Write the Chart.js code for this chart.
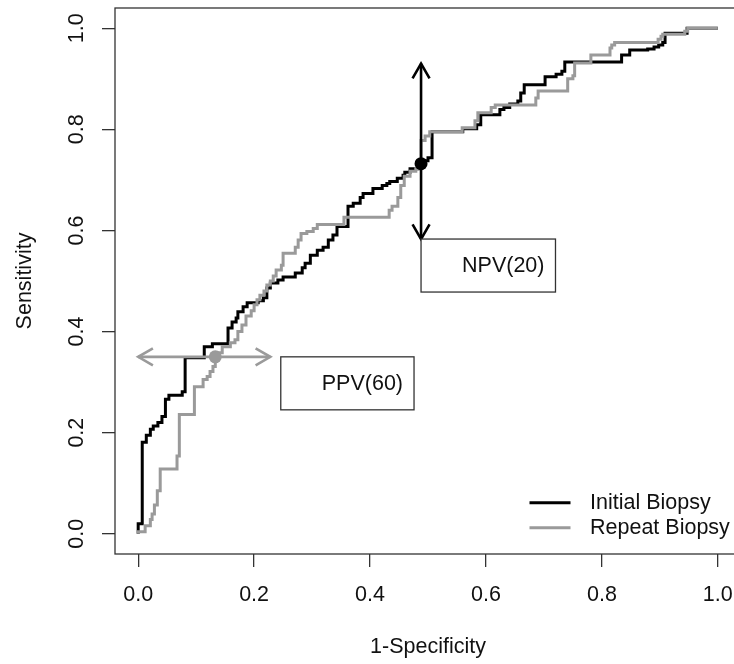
<!DOCTYPE html>
<html>
<head>
<meta charset="utf-8">
<script src="https://cdn.jsdelivr.net/npm/chart.js@4/dist/chart.umd.min.js"></script>
<style>
  html, body { margin: 0; padding: 0; background: #fff; overflow: hidden; }
</style>
</head>
<body>
<canvas id="roc" width="760" height="664"></canvas>
<script>
// ROC curve data (1-specificity, sensitivity)
const initialFpr = [0.000,0.000,0.007,0.007,0.014,0.014,0.021,0.021,0.026,0.026,0.034,0.034,0.041,0.041,0.047,0.047,0.053,0.053,0.076,0.076,0.081,0.081,0.114,0.114,0.128,0.128,0.155,0.155,0.162,0.162,0.169,0.169,0.172,0.172,0.181,0.181,0.188,0.188,0.207,0.207,0.216,0.216,0.222,0.222,0.228,0.228,0.241,0.241,0.250,0.250,0.271,0.271,0.283,0.283,0.288,0.288,0.297,0.297,0.309,0.309,0.319,0.319,0.328,0.328,0.336,0.336,0.343,0.343,0.362,0.362,0.371,0.371,0.383,0.383,0.388,0.388,0.405,0.405,0.421,0.421,0.429,0.429,0.434,0.434,0.447,0.447,0.457,0.457,0.460,0.460,0.469,0.469,0.483,0.483,0.493,0.493,0.500,0.500,0.507,0.507,0.560,0.560,0.584,0.584,0.591,0.591,0.624,0.624,0.631,0.631,0.641,0.641,0.655,0.655,0.660,0.660,0.666,0.666,0.702,0.702,0.721,0.721,0.731,0.731,0.736,0.736,0.834,0.834,0.848,0.848,0.879,0.879,0.890,0.890,0.898,0.898,0.905,0.905,0.909,0.909,0.947,0.947,1.000];
const initialTpr = [0.000,0.020,0.020,0.181,0.181,0.195,0.195,0.207,0.207,0.213,0.213,0.220,0.220,0.232,0.232,0.266,0.266,0.274,0.274,0.281,0.281,0.348,0.348,0.370,0.370,0.376,0.376,0.407,0.407,0.419,0.419,0.427,0.427,0.439,0.439,0.449,0.449,0.457,0.457,0.461,0.461,0.467,0.467,0.486,0.486,0.496,0.496,0.502,0.502,0.508,0.508,0.516,0.516,0.526,0.526,0.535,0.535,0.551,0.551,0.561,0.561,0.567,0.567,0.581,0.581,0.591,0.591,0.608,0.608,0.648,0.648,0.654,0.654,0.665,0.665,0.673,0.673,0.683,0.683,0.689,0.689,0.693,0.693,0.697,0.697,0.703,0.703,0.709,0.709,0.715,0.715,0.722,0.722,0.728,0.728,0.738,0.738,0.744,0.744,0.795,0.795,0.801,0.801,0.809,0.809,0.829,0.829,0.839,0.839,0.843,0.843,0.850,0.850,0.856,0.856,0.872,0.872,0.888,0.888,0.904,0.904,0.909,0.909,0.915,0.915,0.933,0.933,0.947,0.947,0.957,0.957,0.959,0.959,0.963,0.963,0.967,0.967,0.972,0.972,0.990,0.990,1.000,1.000];

const repeatFpr = [0.000,0.000,0.012,0.012,0.021,0.021,0.024,0.024,0.028,0.028,0.033,0.033,0.038,0.038,0.067,0.067,0.071,0.071,0.097,0.097,0.112,0.112,0.119,0.119,0.124,0.124,0.129,0.129,0.133,0.133,0.136,0.136,0.145,0.145,0.159,0.159,0.167,0.167,0.172,0.172,0.179,0.179,0.186,0.186,0.195,0.195,0.200,0.200,0.205,0.205,0.210,0.210,0.217,0.217,0.222,0.222,0.228,0.228,0.233,0.233,0.238,0.238,0.247,0.247,0.250,0.250,0.271,0.271,0.276,0.276,0.281,0.281,0.291,0.291,0.302,0.302,0.309,0.309,0.355,0.355,0.433,0.433,0.438,0.438,0.448,0.448,0.453,0.453,0.459,0.459,0.469,0.469,0.479,0.479,0.488,0.488,0.495,0.495,0.503,0.503,0.559,0.559,0.581,0.581,0.586,0.586,0.609,0.609,0.616,0.616,0.686,0.686,0.690,0.690,0.741,0.741,0.750,0.750,0.753,0.753,0.781,0.781,0.814,0.814,0.817,0.817,0.822,0.822,0.897,0.897,0.902,0.902,0.905,0.905,0.943,0.943,0.948,0.948,1.000];
const repeatTpr = [0.000,0.004,0.004,0.016,0.016,0.028,0.028,0.039,0.039,0.057,0.057,0.085,0.085,0.128,0.128,0.154,0.154,0.236,0.236,0.291,0.291,0.305,0.305,0.311,0.311,0.321,0.321,0.331,0.331,0.350,0.350,0.358,0.358,0.370,0.370,0.378,0.378,0.384,0.384,0.400,0.400,0.413,0.413,0.431,0.431,0.441,0.441,0.453,0.453,0.463,0.463,0.472,0.472,0.480,0.480,0.492,0.492,0.500,0.500,0.510,0.510,0.522,0.522,0.531,0.531,0.555,0.555,0.567,0.567,0.581,0.581,0.594,0.594,0.598,0.598,0.604,0.604,0.612,0.612,0.626,0.626,0.640,0.640,0.648,0.648,0.665,0.665,0.689,0.689,0.707,0.707,0.717,0.717,0.722,0.722,0.778,0.778,0.787,0.787,0.795,0.795,0.803,0.803,0.817,0.817,0.833,0.833,0.843,0.843,0.848,0.848,0.862,0.862,0.876,0.876,0.900,0.900,0.906,0.906,0.931,0.931,0.947,0.947,0.961,0.961,0.967,0.967,0.972,0.972,0.978,0.978,0.984,0.984,0.988,0.988,0.994,0.994,1.000,1.000];

const seriesLabels = ['Initial Biopsy', 'Repeat Biopsy'];

// cut-off points (NPV on initial, PPV on repeat)
const cutX = [0.488, 0.133];
const cutY = [0.732, 0.350];

// double arrows through the cut-off points
const arrowX0 = [0.488, 0.000];
const arrowY0 = [0.583, 0.350];
const arrowX1 = [0.488, 0.228];
const arrowY1 = [0.930, 0.350];

// labelled boxes, top-left corner in data units
const boxLabels = ['NPV(20)', 'PPV(60)'];
const boxX = [0.488, 0.246];
const boxY = [0.583, 0.350];

const xTickValues = [0, 0.2, 0.4, 0.6, 0.8, 1.0];
const xTickLabels = ['0.0', '0.2', '0.4', '0.6', '0.8', '1.0'];
const yTickValues = [0, 0.2, 0.4, 0.6, 0.8, 1.0];
const yTickLabels = ['0.0', '0.2', '0.4', '0.6', '0.8', '1.0'];

const BLACK = '#000000';
const GREY = '#9a9a9a';
const TEXT = '#111111';
const FAMILY = "'Liberation Sans', Arial, Helvetica, sans-serif";
const FS = 21.5;

function toPoints(xs, ys) {
  return xs.map((x, i) => ({ x: x, y: ys[i] }));
}

// plot frame like R's box()
const framePlugin = {
  id: 'frame',
  beforeDatasetsDraw(chart) {
    const { ctx, chartArea: a } = chart;
    ctx.save();
    ctx.strokeStyle = '#333';
    ctx.lineWidth = 1.3;
    ctx.strokeRect(a.left, a.top, a.right - a.left, a.bottom - a.top);
    ctx.restore();
  }
};

function arrowHead(ctx, tx, ty, fx, fy) {
  const ang = Math.atan2(ty - fy, tx - fx);
  const len = 17, spread = Math.PI / 6;
  ctx.beginPath();
  ctx.moveTo(tx - len * Math.cos(ang - spread), ty - len * Math.sin(ang - spread));
  ctx.lineTo(tx, ty);
  ctx.lineTo(tx - len * Math.cos(ang + spread), ty - len * Math.sin(ang + spread));
  ctx.stroke();
}

// arrows and text boxes
const annotPlugin = {
  id: 'annot',
  afterDatasetsDraw(chart) {
    const { ctx, scales: { x, y } } = chart;
    const colors = [BLACK, GREY];
    ctx.save();
    ctx.lineCap = 'butt';
    ctx.lineJoin = 'miter';
    for (let i = 0; i < arrowX0.length; i++) {
      const x0 = x.getPixelForValue(arrowX0[i]), y0 = y.getPixelForValue(arrowY0[i]);
      const x1 = x.getPixelForValue(arrowX1[i]), y1 = y.getPixelForValue(arrowY1[i]);
      ctx.strokeStyle = colors[i];
      ctx.lineWidth = 2.6;
      ctx.beginPath();
      ctx.moveTo(x0, y0);
      ctx.lineTo(x1, y1);
      ctx.stroke();
      arrowHead(ctx, x1, y1, x0, y0);
      arrowHead(ctx, x0, y0, x1, y1);
    }
    ctx.font = FS + 'px ' + FAMILY;
    ctx.textBaseline = 'middle';
    ctx.textAlign = 'left';
    for (let i = 0; i < boxLabels.length; i++) {
      const bx = x.getPixelForValue(boxX[i]), by = y.getPixelForValue(boxY[i]);
      const w = 41 + ctx.measureText(boxLabels[i]).width + 11;
      const h = 53;
      ctx.fillStyle = '#fff';
      ctx.fillRect(bx, by, w, h);
      ctx.strokeStyle = '#333';
      ctx.lineWidth = 1.3;
      ctx.strokeRect(bx, by, w, h);
      ctx.fillStyle = TEXT;
      ctx.fillText(boxLabels[i], bx + 41, by + 27.5);
    }
    ctx.restore();
  }
};

// legend in the bottom right corner of the plot
const legendPlugin = {
  id: 'rlegend',
  afterDraw(chart) {
    const { ctx, chartArea: a } = chart;
    const colors = [BLACK, GREY];
    ctx.save();
    ctx.font = FS + 'px ' + FAMILY;
    ctx.textBaseline = 'middle';
    ctx.textAlign = 'left';
    seriesLabels.forEach((lab, i) => {
      const yy = a.bottom - 51.3 + i * 25;
      ctx.strokeStyle = colors[i];
      ctx.lineWidth = 3;
      ctx.beginPath();
      ctx.moveTo(a.right - 211.5, yy);
      ctx.lineTo(a.right - 170.5, yy);
      ctx.stroke();
      ctx.fillStyle = TEXT;
      ctx.fillText(lab, a.right - 151, yy);
    });
    ctx.restore();
  }
};

const font = { family: FAMILY, size: FS };

new Chart(document.getElementById('roc'), {
  type: 'scatter',
  data: {
    datasets: [
      { label: seriesLabels[0], data: toPoints(initialFpr, initialTpr), showLine: true,
        borderColor: BLACK, borderWidth: 3, pointRadius: 0, tension: 0, order: 2 },
      { label: seriesLabels[1], data: toPoints(repeatFpr, repeatTpr), showLine: true,
        borderColor: GREY, borderWidth: 3, pointRadius: 0, tension: 0, order: 1 },
      { label: 'cut', data: [{ x: cutX[0], y: cutY[0] }], showLine: false,
        pointRadius: 6.5, pointBackgroundColor: BLACK, pointBorderWidth: 0, order: 0 },
      { label: 'cut2', data: [{ x: cutX[1], y: cutY[1] }], showLine: false,
        pointRadius: 6.5, pointBackgroundColor: GREY, pointBorderWidth: 0, order: 0 }
    ]
  },
  options: {
    responsive: false,
    animation: false,
    layout: { padding: { top: 8, right: 19, left: 0, bottom: 0 } },
    plugins: { legend: { display: false }, tooltip: { enabled: false } },
    scales: {
      x: {
        type: 'linear', min: -0.04, max: 1.04,
        afterBuildTicks: s => { s.ticks = xTickValues.map(v => ({ value: v })); },
        afterFit: s => { s.height = 110; s.paddingLeft = 0; s.paddingRight = 0; },
        ticks: { callback: (v, i) => xTickLabels[i], autoSkip: false, maxRotation: 0,
          padding: 15, font: font, color: TEXT },
        grid: { drawOnChartArea: false, drawTicks: true, tickLength: 13, color: '#333', lineWidth: 1.3 },
        border: { display: false },
        title: { display: true, text: '1-Specificity', font: font, color: TEXT, padding: { top: 0, bottom: 4 } }
      },
      y: {
        type: 'linear', min: -0.04, max: 1.04,
        afterBuildTicks: s => { s.ticks = yTickValues.map(v => ({ value: v })); },
        afterFit: s => { s.width = 115; s.paddingTop = 0; s.paddingBottom = 0; },
        ticks: { callback: (v, i) => yTickLabels[i], autoSkip: false, minRotation: 90, maxRotation: 90,
          crossAlign: 'center', padding: 10, font: font, color: TEXT },
        grid: { drawOnChartArea: false, drawTicks: true, tickLength: 13, color: '#333', lineWidth: 1.3 },
        border: { display: false },
        title: { display: true, text: 'Sensitivity', font: font, color: TEXT, padding: { top: 12, bottom: 0 } }
      }
    }
  },
  plugins: [framePlugin, annotPlugin, legendPlugin]
});
</script>
</body>
</html>
